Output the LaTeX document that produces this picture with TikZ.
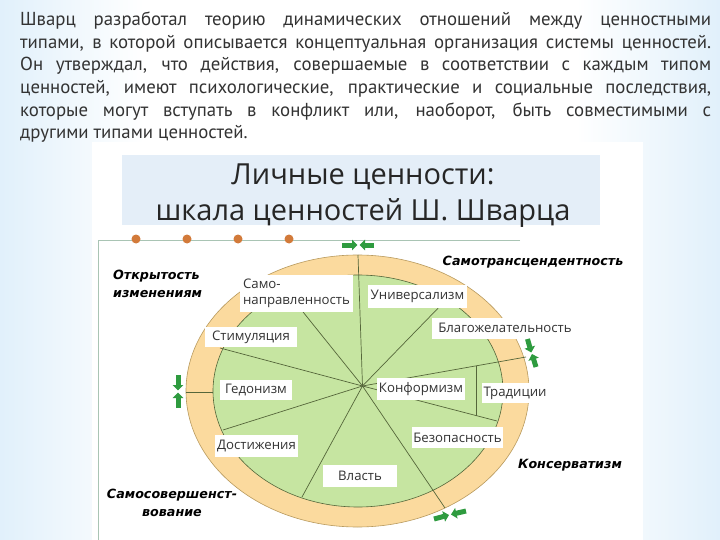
\documentclass[tikz,border=0pt]{standalone}
\usepackage{fontspec}
\setmainfont{Open Sans}
\newfontfamily\parafont{PT Sans}
\newfontfamily\boxfont{Open Sans}
\newfontfamily\groupfont{DejaVu Sans Bold Oblique}
\usetikzlibrary{arrows.meta,positioning}

\definecolor{bgblue}{HTML}{86C3EE}
\definecolor{titleblue}{HTML}{E4EEF8}
\definecolor{ringpeach}{HTML}{FBDA9E}
\definecolor{ringedge}{HTML}{B89A5E}
\definecolor{leafgreen}{HTML}{C6E5A1}
\definecolor{spoke}{HTML}{55663A}
\definecolor{dotorange}{HTML}{D27A3A}
\definecolor{frameline}{HTML}{A9C4B4}
\definecolor{arrowgreen}{HTML}{2E9B3F}
\definecolor{inkgray}{HTML}{333333}

\pgfdeclarehorizontalshading{slide}{100bp}{color(0bp)=(bgblue); color(15bp)=(bgblue!50!white); color(35bp)=(white); color(65bp)=(white); color(85bp)=(bgblue!50!white); color(100bp)=(bgblue)}

\tikzset{
  valbox/.style={fill=white, inner sep=0pt, text=inkgray, font=\boxfont\fontsize{13.2}{15.5}\selectfont},
  group/.style={inner sep=0pt, text=black, font=\groupfont\fontsize{12.7}{18}\selectfont},
  pinch/.style={arrowgreen, line width=5pt, -{Triangle[length=5.5pt,width=10.5pt]}}
}
\def\squeeze(#1)(#2)(#3)(#4){\draw[pinch] (#1) -- (#2); \draw[pinch] (#3) -- (#4);}

\begin{document}
\begin{tikzpicture}[x=1pt,y=-1pt]
		%%%%% START %%%%%
		\useasboundingbox (0,0) rectangle (720,540);
		\shade[shading=slide] (0,0) rectangle (720,540);
		
		\node[anchor=north west, inner sep=0pt, text width=691pt, align=justify, text=inkgray,
		  font=\parafont\fontsize{18.8}{22.7}\selectfont] (intro) at (20,11.5)
		  {\hyphenpenalty=10000 \tolerance=9999
		   Шварц разработал теорию динамических отношений между ценностными\linebreak
		   типами, в которой описывается концептуальная организация системы ценностей.\linebreak
		   Он утверждал, что действия, совершаемые в соответствии с каждым типом\linebreak
		   ценностей, имеют психологические, практические и социальные последствия,\linebreak
		   которые могут вступать в конфликт или, наоборот, быть совместимыми с\linebreak
		   другими типами ценностей.};
		
		% white sheet and title
		\fill[white] (92,142) rectangle (643,540);
		\fill[titleblue] (122,155) rectangle (600,225);
		\node[align=center, inner sep=0pt, text=black!85, font=\boxfont\fontsize{29}{36}\selectfont] (title) at (363,196)
		  {Личные ценности:\\шкала ценностей Ш. Шварца};
		
		\draw[frameline, line width=0.8pt] (520,240) -- (98,240) -- (98,540);
		\foreach \x in {136,187,238,289} \fill[dotorange] (\x,239) circle (4.5);
		
		% ring and core
		\filldraw[fill=ringpeach, draw=ringedge, line width=0.6pt] (357.5,391) ellipse [x radius=171.5, y radius=136];
		\filldraw[fill=leafgreen, draw=spoke, line width=0.6pt] (358,391) ellipse [x radius=145, y radius=116];
		
		\coordinate (hub) at (362.5,386);
		\coordinate (top) at (358,255);
		\coordinate (sd) at (291,297);
		\coordinate (stim) at (220,348);
		\coordinate (hed) at (223,430);
		\coordinate (ach) at (302,497);
		\coordinate (pow) at (445,508);
		\coordinate (univ) at (446,300);
		\coordinate (confup) at (526,357);
		\coordinate (conflow) at (497,421);
		\coordinate (tradup) at (476.7,365.7);
		\coordinate (tradlow) at (476.7,415.7);
		\coordinate (leftin) at (213,392);
		\coordinate (leftout) at (186,392);
		
		\foreach \p in {top,sd,stim,hed,ach,pow,univ,confup,conflow}
		  \draw[spoke, line width=0.7pt] (hub) -- (\p);
		\draw[spoke, line width=0.7pt] (tradup) -- (tradlow);
		\draw[spoke, line width=0.7pt] (leftout) -- (leftin);
		
		% value boxes
		\node[valbox, minimum width=113pt, minimum height=37pt, align=left] (selfdir) at (296.5,293.5) {Само-\\направленность};
		\node[valbox, minimum width=99pt, minimum height=23pt] (universal) at (417.5,296.5) {Универсализм};
		\node[valbox, minimum width=146pt, minimum height=21pt] (benev) at (505,328) {Благожелательность};
		\node[valbox, minimum width=92pt, minimum height=20pt] (stimul) at (251,337) {Стимуляция};
		\node[valbox, minimum width=72pt, minimum height=20pt] (hedon) at (256,390) {Гедонизм};
		\node[valbox, minimum width=88pt, minimum height=22pt] (conform) at (421,389) {Конформизм};
		\node[valbox, minimum width=66pt, minimum height=20pt] (tradit) at (515,393) {Традиции};
		\node[valbox, minimum width=91pt, minimum height=21pt] (secur) at (457.5,437.5) {Безопасность};
		\node[valbox, minimum width=83pt, minimum height=22pt] (achiev) at (256.5,446) {Достижения};
		\node[valbox, minimum width=74pt, minimum height=22pt] (power) at (360,476) {Власть};
		
		% higher order groups
		\node[group, align=left, anchor=west] (openness) at (113,284) {Открытость\\изменениям};
		\node[group] (transc) at (533,262) {Самотрансцендентность};
		\node[group] (conserv) at (570,465) {Консерватизм};
		\node[group, align=center] (enhance) at (172,503) {Самосовершенст-\\вование};
		
		% green arrows on the ring
		\squeeze(342,245)(357.5,245)(374,245)(359.5,245)
		\squeeze(178,375)(178,390.5)(178,408)(178,392.5)
		\squeeze(527.5,339)(531.3,352.5)(536,367)(532,354)
		\squeeze(434,519)(449,515)(466,511)(451,514.5)
		
		%%%%% END %%%%%
	\end{tikzpicture}
\end{document}
